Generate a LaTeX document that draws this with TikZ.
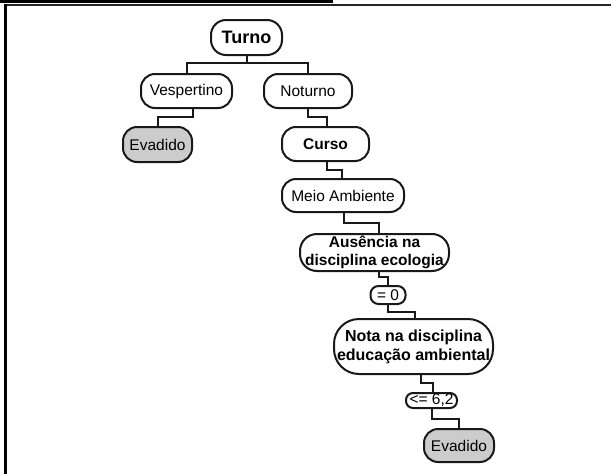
\documentclass[tikz,border=0pt]{standalone}
\usepackage{fontspec}
\setmainfont{Liberation Sans}
\begin{document}
\begin{tikzpicture}[x=1pt,y=-1pt,
  tbox/.style={draw=black!90, line width=2pt, fill=white, rounded corners=14pt, inner sep=0pt, align=center,
    font=\fontsize{15.5}{19}\selectfont},
  bbox/.style={tbox, font=\fontsize{15.5}{19}\selectfont\bfseries},
  leaf/.style={tbox, fill=black!20},
  conn/.style={draw=black!90, line width=2pt}]
\useasboundingbox (0,0) rectangle (611,474);
% frame
\fill[black] (0,0) rectangle (333,2.6);
\draw[line width=1.9pt, black!85] (4.2,5) -- (611,5);
\draw[line width=2.6pt, black] (5.5,3.8) -- (5.5,474);
% nodes
\node[bbox, font=\fontsize{18}{21}\selectfont\bfseries, minimum width=71, minimum height=35, rounded corners=15pt] (turno) at (246.5,37.5) {Turno};
\node[tbox, minimum width=91, minimum height=34] (vesp) at (186.5,91) {Vespertino};
\node[tbox, minimum width=88, minimum height=34] (not) at (308,91) {Noturno};
\node[leaf, minimum width=69, minimum height=35] (ev1) at (157.5,144.5) {Evadido};
\node[bbox, minimum width=87, minimum height=34] (curso) at (325.5,144) {Curso};
\node[tbox, minimum width=122, minimum height=33] (meio) at (343,195.5) {Meio Ambiente};
\node[bbox, minimum width=149, minimum height=37, rounded corners=17pt] (aus) at (374.5,252.5) {Ausência na\\[-1pt]disciplina ecologia};
\node[tbox, minimum width=35, minimum height=18, rounded corners=8pt] (eq) at (388,295) {= 0};
\node[bbox, font=\fontsize{16}{19}\selectfont\bfseries, minimum width=159, minimum height=55, rounded corners=25pt] (nota) at (413.5,346.5) {Nota na disciplina\\educação ambiental};
\node[tbox, minimum width=51, minimum height=15, rounded corners=7pt] (le) at (431.5,400.5) {<= 6,2};
\node[leaf, minimum width=70, minimum height=33] (ev2) at (459,445.5) {Evadido};
% connectors
\draw[conn] (turno.south) -- ++(0,7) -| (vesp.north);
\draw[conn] (turno.south) -- ++(0,7) -| (not.north);
\draw[conn] ([xshift=6.5]vesp.south) -- ++(0,8) -| (ev1.north);
\draw[conn] (not.south) -- ++(0,8) -| ([xshift=1.5]curso.north);
\draw[conn] ([xshift=1.5]curso.south) -- ++(0,8) -| ([xshift=-1]meio.north);
\draw[conn] ([xshift=1]meio.south) -- ++(0,10) -| ([xshift=4.5]aus.north);
\draw[conn] ([xshift=4.5]aus.south) -- ++(0,5) -| (eq.north);
\draw[conn] (eq.south) -- ++(0,7) -| ([xshift=1.5]nota.north);
\draw[conn] ([xshift=7.5]nota.south) -- ++(0,8) -| ([xshift=1.5]le.north);
\draw[conn] (le.south) -- ++(0,10) -| (ev2.north);
\end{tikzpicture}
\end{document}
